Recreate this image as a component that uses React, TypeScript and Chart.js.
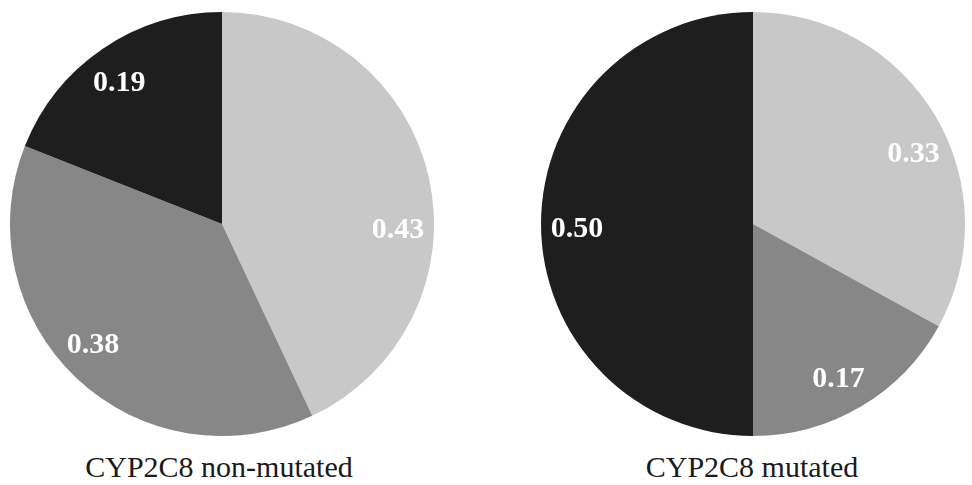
import React, { useEffect, useRef } from "react";
import { Chart, registerables } from "chart.js";

Chart.register(...registerables);

const categories = ["Light", "Medium", "Dark"];
const nonMutatedValues = [0.43, 0.38, 0.19];
const mutatedValues = [0.33, 0.17, 0.5];
const sliceColors = ["#c8c8c8", "#878787", "#1e1e1e"];
const titles = ["CYP2C8 non-mutated", "CYP2C8 mutated"];

// small "best fit" angular nudges (degrees, clockwise) applied to label placement
const nonMutatedLabelNudge = [14, 4, -1.5];
const mutatedLabelNudge = [6.5, 1.5, -1];

const labelPlugin = {
  id: "sliceLabels",
  afterDatasetsDraw(chart: any, _args: any, opts: any) {
    const ctx = chart.ctx;
    const meta = chart.getDatasetMeta(0);
    const data = chart.data.datasets[0].data as number[];
    const nudge: number[] = (opts && opts.nudge) || [];
    ctx.save();
    ctx.fillStyle = "#ffffff";
    ctx.font = "bold 30px 'Liberation Serif', 'Times New Roman', serif";
    ctx.textAlign = "center";
    ctx.textBaseline = "middle";
    meta.data.forEach((arc: any, i: number) => {
      const p = arc.getProps(["x", "y", "startAngle", "endAngle", "outerRadius"], true);
      const mid = (p.startAngle + p.endAngle) / 2 + ((nudge[i] || 0) * Math.PI) / 180;
      const r = p.outerRadius * 0.83;
      const x = p.x + Math.cos(mid) * r;
      const y = p.y + Math.sin(mid) * r;
      ctx.fillText(data[i].toFixed(2), x, y + 2);
    });
    ctx.restore();
  },
};

function PieChart({ values, nudge }: { values: number[]; nudge: number[] }) {
  const ref = useRef<HTMLCanvasElement>(null);
  useEffect(() => {
    if (!ref.current) return;
    const chart = new Chart(ref.current, {
      type: "pie",
      data: {
        labels: categories,
        datasets: [
          {
            data: values,
            backgroundColor: sliceColors,
            borderWidth: 0,
          },
        ],
      },
      options: {
        animation: false,
        responsive: true,
        maintainAspectRatio: false,
        layout: { padding: 0 },
        plugins: {
          legend: { display: false },
          tooltip: { enabled: false },
          sliceLabels: { nudge },
        } as any,
      },
      plugins: [labelPlugin],
    });
    return () => chart.destroy();
  }, [values, nudge]);
  return <canvas ref={ref} />;
}

export default function App() {
  const titleStyle: React.CSSProperties = {
    position: "absolute",
    top: 450,
    width: 500,
    textAlign: "center",
    fontFamily: "'Liberation Serif', 'Times New Roman', serif",
    fontSize: 30,
    lineHeight: "34px",
    color: "#1a1a1a",
    whiteSpace: "nowrap",
  };
  return (
    <div
      style={{
        position: "absolute",
        left: 0,
        top: 0,
        width: 972,
        height: 485,
        background: "#ffffff",
        overflow: "hidden",
      }}
    >
      <div style={{ position: "absolute", left: 10, top: 12, width: 424, height: 424 }}>
        <PieChart values={nonMutatedValues} nudge={nonMutatedLabelNudge} />
      </div>
      <div style={{ position: "absolute", left: 541, top: 12, width: 424, height: 424 }}>
        <PieChart values={mutatedValues} nudge={mutatedLabelNudge} />
      </div>
      <div style={{ ...titleStyle, left: 219 - 250 }}>{titles[0]}</div>
      <div style={{ ...titleStyle, left: 752 - 250 }}>{titles[1]}</div>
    </div>
  );
}
